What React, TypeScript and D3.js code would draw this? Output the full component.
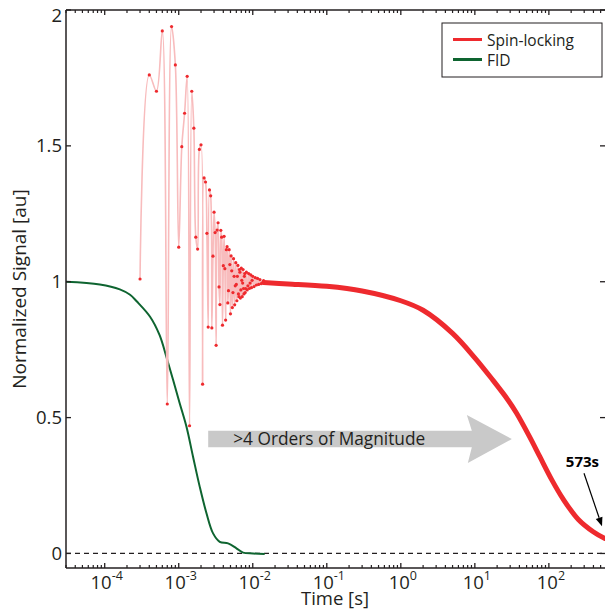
import React from "react";
import * as d3 from "d3";

// spin-locking raw samples (time in ms, normalized signal)
const oscTimesMs = [
  0.3, 0.4, 0.5, 0.6, 0.7, 0.8, 0.9, 1.0, 1.1, 1.2, 1.3, 1.4, 1.5, 1.6, 1.7, 1.8, 1.9, 2.0,
  2.1, 2.2, 2.3, 2.4, 2.5, 2.6, 2.7, 2.8, 2.9, 3.0, 3.1, 3.2, 3.3, 3.4, 3.5, 3.6, 3.7, 3.8,
  3.9, 4.0, 4.1, 4.2, 4.3, 4.4, 4.5, 4.6, 4.7, 4.8, 4.9, 5.0, 5.1, 5.2, 5.3, 5.4, 5.5, 5.6,
  5.7, 5.8, 5.9, 6.0, 6.1, 6.2, 6.3, 6.4, 6.5, 6.6, 6.7, 6.8, 6.9, 7.0, 7.1, 7.2, 7.3, 7.4,
  7.5, 7.6, 7.7, 7.8, 7.9, 8.0, 8.2, 8.4, 8.6, 8.8, 9.0, 9.2, 9.4, 9.6, 9.8, 10.0, 10.4,
  10.8, 11.2, 11.6, 12.0, 12.5, 13.0, 14.0, 15.0,
];
const oscValues = [
  1.010, 1.761, 1.701, 1.923, 0.550, 1.939, 1.798, 1.127, 1.497, 1.620, 1.756, 0.470, 1.701,
  1.565, 1.164, 1.120, 1.487, 1.504, 0.623, 1.382, 1.367, 1.178, 0.833, 1.338, 1.316, 0.830,
  1.094, 1.256, 1.181, 0.766, 1.190, 1.217, 0.981, 0.916, 1.189, 1.164, 0.840, 1.059, 1.167,
  1.048, 0.859, 1.118, 1.129, 0.922, 0.967, 1.118, 1.063, 0.882, 1.095, 1.040, 0.905, 0.960,
  1.085, 1.020, 0.915, 0.985, 1.070, 0.990, 0.930, 1.020, 1.060, 0.955, 0.945, 1.045, 1.035,
  0.940, 0.970, 1.050, 1.005, 0.945, 0.995, 1.045, 0.975, 0.955, 1.020, 1.030, 0.960, 0.975,
  1.035, 0.970, 0.985, 1.030, 0.975, 0.995, 1.025, 0.978, 1.005, 1.020, 0.982, 1.015, 0.988,
  1.012, 0.990, 1.008, 0.993, 1.004, 0.996,
];

// spin-locking decay (time in s)
const decayTimes = [0.014, 0.03, 0.1, 0.3, 1, 2, 5, 10, 17.5, 28, 36.5, 55, 75.5, 110, 156, 250, 397, 573];
const decayValues = [0.997, 0.992, 0.983, 0.966, 0.93, 0.895, 0.81, 0.72, 0.638, 0.565, 0.517, 0.429, 0.356, 0.27, 0.2, 0.125, 0.08, 0.055];

// FID (time in ms)
const fidTimesMs = [0.03, 0.086, 0.16, 0.22, 0.27, 0.41, 0.55, 0.68, 0.84, 1.03, 1.27, 1.56, 1.92, 2.37, 2.91, 3.58, 4.64, 6.02, 7.4, 10.1, 14.5];
const fidValues = [1.0, 0.99, 0.972, 0.952, 0.928, 0.871, 0.804, 0.724, 0.638, 0.553, 0.467, 0.356, 0.246, 0.148, 0.074, 0.043, 0.037, 0.019, 0.003, 0.0, -0.002];

const yTicks = [0, 0.5, 1, 1.5, 2];
const xMajorExps = [-4, -3, -2, -1, 0, 1, 2];

const W = 605, H = 610;
const INK = "#231f20";
const RED = "#ee2a2e";
const PINK = "#f8bcbd";
const GREEN = "#0e6430";
const FONT = "'Open Sans', 'Noto Sans', sans-serif";

export default function App() {
  const x = d3.scaleLog().domain([3e-5, 573]).range([66, 605]);
  const y = d3.scaleLinear().domain([-0.0535, 2]).range([568, 10]);
  const [x0, x1] = x.range();
  const [yb, yt] = y.range();

  const osc = oscTimesMs.map((t, i) => ({ t: t / 1000, v: oscValues[i] }));
  const decay = decayTimes.map((t, i) => ({ t, v: decayValues[i] }));
  const fid = fidTimesMs.map((t, i) => ({ t: t / 1000, v: fidValues[i] }));

  const straight = d3.line<{ t: number; v: number }>().x((d) => x(d.t)).y((d) => y(d.v));
  const smooth = straight.curve(d3.curveMonotoneX);
  const fidLine = straight.curve(d3.curveCatmullRom.alpha(0.5));

  const minors: number[] = [];
  for (let e = -5; e <= 2; e++) {
    for (let m = 2; m <= 9; m++) {
      const v = m * Math.pow(10, e);
      if (v > 3e-5 && v < 573) minors.push(v);
    }
  }

  // gray "orders of magnitude" arrow
  const aStart = x(2.5e-3), aTip = x(31.6), aMid = y(0.421);
  const headBack = aTip - 40;
  const arrowPts = [
    [aStart, aMid - 8.3], [headBack, aMid - 8.3], [headBack - 5, aMid - 24],
    [aTip, aMid], [headBack - 4, aMid + 24], [headBack, aMid + 8.3], [aStart, aMid + 8.3],
  ].map((p) => p.join(",")).join(" ");

  // 573s pointer
  const tipX = x(573) - 3, tipY = y(0.1);
  const fromX = tipX - 18, fromY = tipY - 53;
  const ang = Math.atan2(tipY - fromY, tipX - fromX);
  const hl = 9, hw = 3.5;
  const bx = tipX - hl * Math.cos(ang), by = tipY - hl * Math.sin(ang);
  const headPts = [
    [tipX, tipY],
    [bx + hw * Math.sin(ang), by - hw * Math.cos(ang)],
    [bx - hw * Math.sin(ang), by + hw * Math.cos(ang)],
  ].map((p) => p.join(",")).join(" ");

  return (
    <svg width={W} height={H} style={{ position: "absolute", left: 0, top: 0, background: "#fff" }} fontFamily={FONT}>
      <rect width={W} height={H} fill="#fff" />

      {/* zero line */}
      <line x1={x0} x2={x1} y1={y(0)} y2={y(0)} stroke={INK} strokeWidth={1.3} strokeDasharray="5,4" />

      {/* FID */}
      <path d={fidLine(fid) || ""} fill="none" stroke={GREEN} strokeWidth={2} />

      {/* spin-locking raw */}
      <path d={straight(osc) || ""} fill="none" stroke={PINK} strokeWidth={1.6} />
      <path d={smooth(decay) || ""} fill="none" stroke={RED} strokeWidth={5} strokeLinecap="round" />
      {osc.map((d, i) => (
        <circle key={i} cx={x(d.t)} cy={y(d.v)} r={1.6} fill={RED} />
      ))}

      {/* gray arrow */}
      <polygon points={arrowPts} fill="#c9c9c9" />
      <text x={aStart + 25} y={aMid + 6} fontSize={17.3} fill={INK}>&gt;4 Orders of Magnitude</text>

      {/* 573s annotation */}
      <line x1={fromX} y1={fromY} x2={bx} y2={by} stroke="#000" strokeWidth={1.2} />
      <polygon points={headPts} fill="#000" />
      <text x={fromX + 15} y={fromY - 6} fontSize={15} fontWeight="bold" textAnchor="end" fill="#000">573s</text>

      {/* frame */}
      <line x1={x0} x2={x0} y1={yt} y2={yb} stroke={INK} strokeWidth={1.5} />
      <line x1={x0} x2={x1 + 2} y1={yb} y2={yb} stroke={INK} strokeWidth={1.5} />
      <line x1={x0} x2={x1 + 2} y1={yt} y2={yt} stroke={INK} strokeWidth={1.5} />

      {/* x ticks */}
      {minors.map((v) => (
        <g key={"m" + v}>
          <line x1={x(v)} x2={x(v)} y1={yb} y2={yb - 3} stroke={INK} strokeWidth={1.2} />
          <line x1={x(v)} x2={x(v)} y1={yt} y2={yt + 3} stroke={INK} strokeWidth={1.2} />
        </g>
      ))}
      {xMajorExps.map((e) => {
        const px = x(Math.pow(10, e));
        return (
          <g key={"M" + e}>
            <line x1={px} x2={px} y1={yb} y2={yb - 5} stroke={INK} strokeWidth={1.3} />
            <line x1={px} x2={px} y1={yt} y2={yt + 5} stroke={INK} strokeWidth={1.3} />
            <text x={px + 2} y={589} fontSize={18.5} textAnchor="middle" fill={INK}>
              10<tspan dy={-9} fontSize={12.5}>{e}</tspan>
            </text>
          </g>
        );
      })}

      {/* y ticks */}
      {yTicks.map((v) => (
        <g key={"y" + v}>
          <line x1={x0} x2={x0 + 5} y1={y(v)} y2={y(v)} stroke={INK} strokeWidth={1.3} />
          <line x1={x1 - 5} x2={x1} y1={y(v)} y2={y(v)} stroke={INK} strokeWidth={1.3} />
          <text x={62} y={Math.max(y(v), 15.5) + 6.5} fontSize={18.5} textAnchor="end" fill={INK}>{v}</text>
        </g>
      ))}

      {/* axis titles */}
      <text x={335} y={605} fontSize={18.5} textAnchor="middle" fill={INK}>Time [s]</text>
      <text transform={`translate(26,${(yt + yb) / 2}) rotate(-90)`} fontSize={19} textAnchor="middle" fill={INK}>
        Normalized Signal [au]
      </text>

      {/* legend */}
      <rect x={442} y={23} width={160} height={54} fill="#fff" stroke={INK} strokeWidth={1} />
      <line x1={453} x2={482} y1={39.5} y2={39.5} stroke={RED} strokeWidth={3} />
      <line x1={453} x2={482} y1={59.5} y2={59.5} stroke={GREEN} strokeWidth={3} />
      <text x={487} y={45.5} fontSize={15.5} fill={INK}>Spin-locking</text>
      <text x={487} y={65.5} fontSize={15.5} fill={INK}>FID</text>
    </svg>
  );
}
